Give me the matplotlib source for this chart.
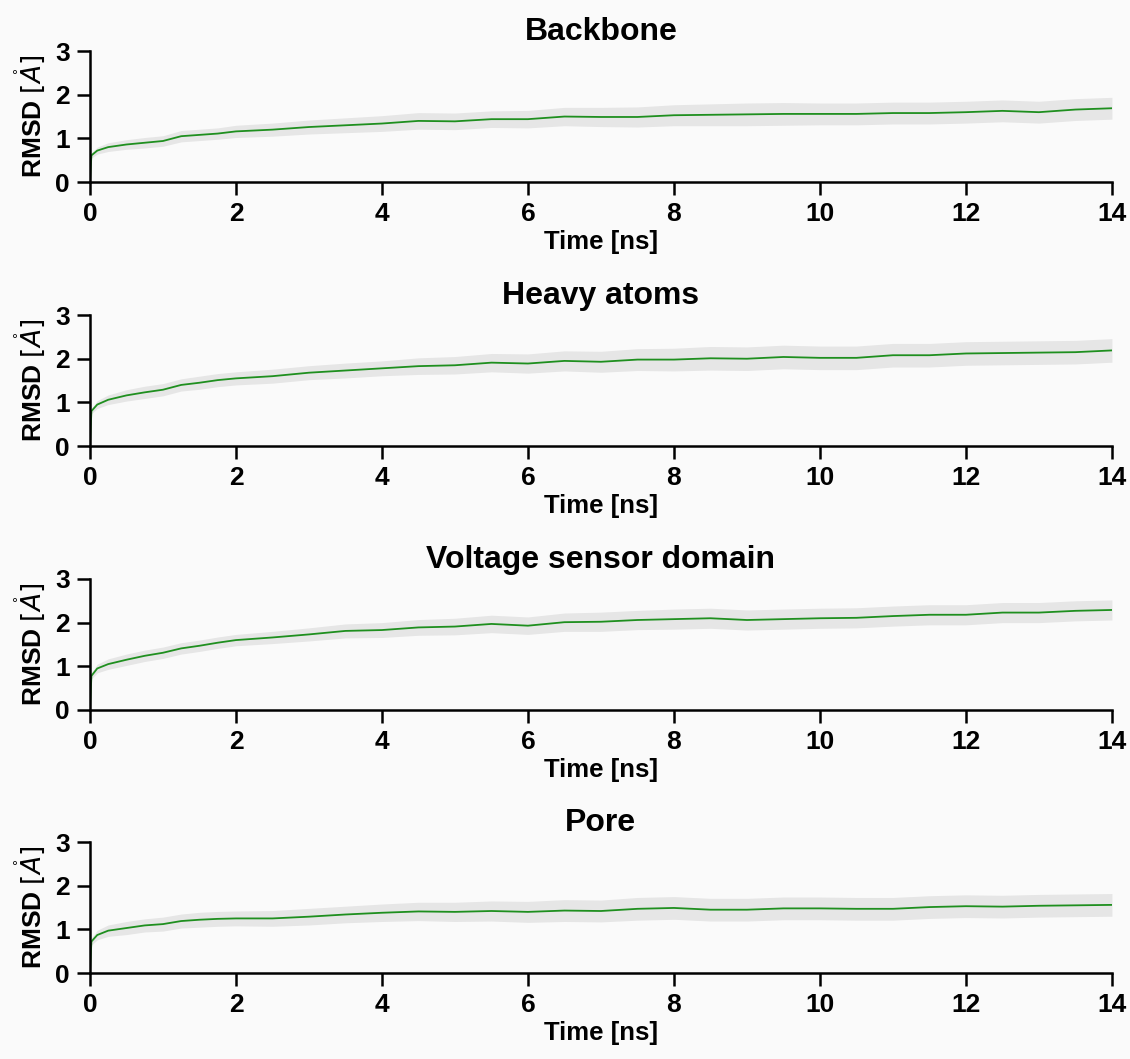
import numpy as np
import matplotlib
matplotlib.use("Agg")
import matplotlib.pyplot as plt

plt.rcParams["font.family"] = ["Liberation Sans", "DejaVu Sans"]
plt.rcParams["mathtext.fontset"] = "dejavusans"

# time points (ns)
time_ns = [0, 0.02, 0.1, 0.25, 0.5, 0.75, 1.0, 1.25, 1.5, 1.75, 2.0, 2.5, 3.0,
           3.5, 4.0, 4.5, 5.0, 5.5, 6.0, 6.5, 7.0, 7.5, 8.0, 8.5, 9.0, 9.5,
           10.0, 10.5, 11.0, 11.5, 12.0, 12.5, 13.0, 13.5, 14.0]

titles = ["Backbone", "Heavy atoms", "Voltage sensor domain", "Pore"]

backbone_mean = [0, 0.61, 0.72, 0.80, 0.86, 0.90, 0.94, 1.05, 1.08, 1.11, 1.16,
                 1.20, 1.26, 1.30, 1.34, 1.40, 1.39, 1.44, 1.44, 1.50, 1.49,
                 1.49, 1.53, 1.54, 1.55, 1.56, 1.56, 1.56, 1.58, 1.58, 1.60,
                 1.63, 1.60, 1.66, 1.69]
backbone_sd = [0, 0.06, 0.08, 0.10, 0.11, 0.12, 0.12, 0.13, 0.13, 0.13, 0.14,
               0.15, 0.16, 0.17, 0.18, 0.19, 0.19, 0.19, 0.20, 0.21, 0.22,
               0.23, 0.24, 0.25, 0.26, 0.26, 0.25, 0.25, 0.25, 0.25, 0.25,
               0.25, 0.25, 0.25, 0.25]

heavy_mean = [0, 0.80, 0.95, 1.06, 1.16, 1.23, 1.29, 1.40, 1.45, 1.51, 1.55,
              1.60, 1.68, 1.73, 1.78, 1.83, 1.85, 1.91, 1.89, 1.95, 1.93,
              1.98, 1.98, 2.01, 2.00, 2.04, 2.02, 2.02, 2.08, 2.08, 2.12,
              2.13, 2.14, 2.15, 2.19]
heavy_sd = [0, 0.06, 0.09, 0.11, 0.13, 0.14, 0.14, 0.14, 0.15, 0.15, 0.15,
            0.16, 0.16, 0.17, 0.17, 0.19, 0.20, 0.21, 0.22, 0.23, 0.24,
            0.25, 0.26, 0.27, 0.27, 0.27, 0.27, 0.27, 0.27, 0.27, 0.27,
            0.27, 0.27, 0.27, 0.27]

vsd_mean = [0, 0.78, 0.95, 1.05, 1.15, 1.24, 1.31, 1.41, 1.47, 1.54, 1.60,
            1.66, 1.73, 1.81, 1.83, 1.89, 1.91, 1.97, 1.93, 2.01, 2.02,
            2.06, 2.08, 2.10, 2.06, 2.08, 2.10, 2.11, 2.15, 2.18, 2.18,
            2.23, 2.23, 2.27, 2.29]
vsd_sd = [0, 0.07, 0.10, 0.12, 0.13, 0.13, 0.13, 0.13, 0.13, 0.13, 0.13,
          0.14, 0.15, 0.16, 0.17, 0.18, 0.19, 0.20, 0.20, 0.21, 0.22,
          0.22, 0.23, 0.23, 0.23, 0.23, 0.23, 0.23, 0.23, 0.23, 0.23,
          0.23, 0.23, 0.23, 0.23]

pore_mean = [0, 0.72, 0.87, 0.97, 1.03, 1.09, 1.12, 1.19, 1.22, 1.24, 1.25,
             1.25, 1.29, 1.34, 1.38, 1.41, 1.40, 1.42, 1.40, 1.43, 1.42,
             1.47, 1.49, 1.45, 1.45, 1.48, 1.48, 1.47, 1.47, 1.51, 1.53,
             1.52, 1.54, 1.55, 1.56]
pore_sd = [0, 0.08, 0.11, 0.13, 0.15, 0.15, 0.16, 0.16, 0.17, 0.17, 0.17,
           0.18, 0.19, 0.19, 0.20, 0.21, 0.22, 0.23, 0.24, 0.25, 0.25,
           0.26, 0.26, 0.26, 0.26, 0.26, 0.26, 0.26, 0.26, 0.26, 0.26,
           0.26, 0.26, 0.26, 0.26]

means = [backbone_mean, heavy_mean, vsd_mean, pore_mean]
sds = [backbone_sd, heavy_sd, vsd_sd, pore_sd]

bg = "#fafafa"
fig = plt.figure(figsize=(11.3, 10.59), dpi=100, facecolor=bg)

left, width, height = 0.0796, 0.9044, 0.1237
bottoms = [0.8281, 0.5788, 0.3296, 0.0812]

t = np.array(time_ns)
for title, m, s, b in zip(titles, means, sds, bottoms):
    m = np.array(m)
    s = np.array(s)
    ax = fig.add_axes([left, b, width, height], facecolor=bg)
    ax.fill_between(t, m - s, m + s, color="#e6e6e6", lw=0)
    ax.plot(t, m, color="#1f8f1f", lw=1.3)

    ax.set_xlim(0, 14)
    ax.set_ylim(0, 3)
    ax.set_xticks(range(0, 15, 2))
    ax.set_yticks([0, 1, 2, 3])
    for side in ("top", "right"):
        ax.spines[side].set_visible(False)
    for side in ("left", "bottom"):
        ax.spines[side].set_linewidth(1.8)
    ax.tick_params(direction="out", length=9.5, width=1.8, labelsize=19,
                   pad=5)
    for lab in ax.get_xticklabels() + ax.get_yticklabels():
        lab.set_fontweight("bold")

    ax.set_title(title, fontsize=23, fontweight="bold", pad=8)
    ax.set_xlabel("Time [ns]", fontsize=18.5, fontweight="bold", labelpad=3)
    ax.set_ylabel(r"RMSD $[\mathring{A}]$", fontsize=19, fontweight="bold",
                  labelpad=6)

fig.savefig("out.png", dpi=100, facecolor=bg)
